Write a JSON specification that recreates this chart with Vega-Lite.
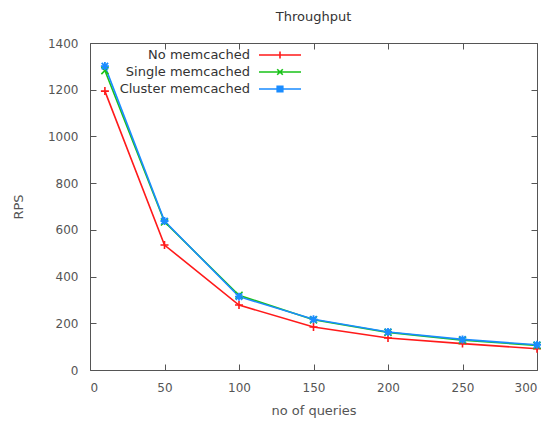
{
  "$schema": "https://vega.github.io/schema/vega-lite/v6.json",
  "autosize": "none",
  "width": 447,
  "height": 327,
  "padding": {"left": 90, "top": 43, "right": 9, "bottom": 51},
  "background": "white",
  "title": {"text": "Throughput", "fontSize": 13, "font": "DejaVu Sans", "fontWeight": "normal", "color": "#333", "offset": 13, "anchor": "middle"},
  "config": {
    "view": {"stroke": "#555", "strokeWidth": 1},
    "axis": {"domainColor": "#555", "tickColor": "#555", "labelColor": "#555", "titleColor": "#555", "labelFont": "DejaVu Sans", "titleFont": "DejaVu Sans", "labelFontSize": 12, "titleFontSize": 13, "titleFontWeight": "normal", "grid": false, "tickSize": -6, "labelPadding": 18}
  },
  "data": {"values": [
    {"series": "No memcached", "queries": 10, "rps": 1194},
    {"series": "No memcached", "queries": 50, "rps": 535},
    {"series": "No memcached", "queries": 100, "rps": 278},
    {"series": "No memcached", "queries": 150, "rps": 184},
    {"series": "No memcached", "queries": 200, "rps": 137},
    {"series": "No memcached", "queries": 250, "rps": 113},
    {"series": "No memcached", "queries": 300, "rps": 91},
    {"series": "Single memcached", "queries": 10, "rps": 1282},
    {"series": "Single memcached", "queries": 50, "rps": 634},
    {"series": "Single memcached", "queries": 100, "rps": 320},
    {"series": "Single memcached", "queries": 150, "rps": 215},
    {"series": "Single memcached", "queries": 200, "rps": 161},
    {"series": "Single memcached", "queries": 250, "rps": 128},
    {"series": "Single memcached", "queries": 300, "rps": 105},
    {"series": "Cluster memcached", "queries": 10, "rps": 1301},
    {"series": "Cluster memcached", "queries": 50, "rps": 638},
    {"series": "Cluster memcached", "queries": 100, "rps": 314},
    {"series": "Cluster memcached", "queries": 150, "rps": 217},
    {"series": "Cluster memcached", "queries": 200, "rps": 163},
    {"series": "Cluster memcached", "queries": 250, "rps": 131},
    {"series": "Cluster memcached", "queries": 300, "rps": 108}
  ]},
  "layer": [
    {
      "mark": {"type": "line", "strokeWidth": 1.6},
      "encoding": {
        "x": {"field": "queries", "type": "quantitative", "scale": {"domain": [0, 300], "nice": false}, "axis": {"title": "no of queries", "values": [0, 50, 100, 150, 200, 250, 300], "format": "d", "titlePadding": 11, "domain": false}},
        "y": {"field": "rps", "type": "quantitative", "scale": {"domain": [0, 1400], "nice": false}, "axis": {"title": "RPS", "values": [0, 200, 400, 600, 800, 1000, 1200, 1400], "format": "d", "titlePadding": 22, "domain": false}},
        "color": {"field": "series", "type": "nominal",
          "scale": {"domain": ["No memcached", "Single memcached", "Cluster memcached"], "range": ["#ff1a1a", "#19c219", "#1a8cff"]},
          "legend": {
            "title": null, "orient": "none", "legendX": 182, "legendY": 4, "padding": 0,
            "labelFont": "DejaVu Sans", "labelFontSize": 13, "labelColor": "#333",
            "labelAlign": "right", "labelOffset": -38,
            "symbolType": "M-3,0L3,0", "symbolSize": 196, "symbolStrokeWidth": 1.6,
            "rowPadding": 2,
            "encode": {"symbols": {"update": {
              "shape": {"signal": "datum.value === 'No memcached' ? 'M-3,0L3,0M0,-0.5L0,0.5' : datum.value === 'Single memcached' ? 'M-3,0L3,0M-0.4,-0.4L0.4,0.4M-0.4,0.4L0.4,-0.4' : 'M-3,0L3,0M-0.4,-0.4L0.4,-0.4L0.4,0.4L-0.4,0.4Z'"},
              "fill": {"signal": "datum.value === 'Cluster memcached' ? '#1a8cff' : 'transparent'"},
              "fillOpacity": {"value": 1}
            }}}
          }
        }
      }
    },
    {
      "transform": [{"filter": "datum.series === 'No memcached'"}],
      "mark": {"type": "point", "filled": false, "strokeWidth": 1.6, "size": 64, "opacity": 1, "color": "#ff1a1a", "shape": "M-1,0L1,0M0,-1L0,1"},
      "encoding": {
        "x": {"field": "queries", "type": "quantitative", "axis": null},
        "y": {"field": "rps", "type": "quantitative", "axis": null}
      }
    },
    {
      "transform": [{"filter": "datum.series === 'Single memcached'"}],
      "mark": {"type": "point", "filled": false, "strokeWidth": 1.6, "size": 50, "opacity": 1, "color": "#19c219", "shape": "M-1,-1L1,1M-1,1L1,-1"},
      "encoding": {
        "x": {"field": "queries", "type": "quantitative", "axis": null},
        "y": {"field": "rps", "type": "quantitative", "axis": null}
      }
    },
    {
      "transform": [{"filter": "datum.series === 'Cluster memcached'"}],
      "mark": {"type": "point", "filled": false, "strokeWidth": 1.8, "size": 64, "opacity": 1, "color": "#1a8cff", "shape": "M-1,0L1,0M0,-1L0,1M-0.8,-0.8L0.8,0.8M-0.8,0.8L0.8,-0.8"},
      "encoding": {
        "x": {"field": "queries", "type": "quantitative", "axis": null},
        "y": {"field": "rps", "type": "quantitative", "axis": null}
      }
    },
    {
      "mark": {"type": "point", "opacity": 0},
      "encoding": {
        "x": {"field": "queries", "type": "quantitative", "axis": {"orient": "top", "labels": false, "title": null, "domain": false, "values": [0, 50, 100, 150, 200, 250, 300]}},
        "y": {"field": "rps", "type": "quantitative", "axis": {"orient": "right", "labels": false, "title": null, "domain": false, "values": [0, 200, 400, 600, 800, 1000, 1200, 1400]}}
      }
    }
  ],
  "resolve": {"axis": {"x": "independent", "y": "independent"}}
}
